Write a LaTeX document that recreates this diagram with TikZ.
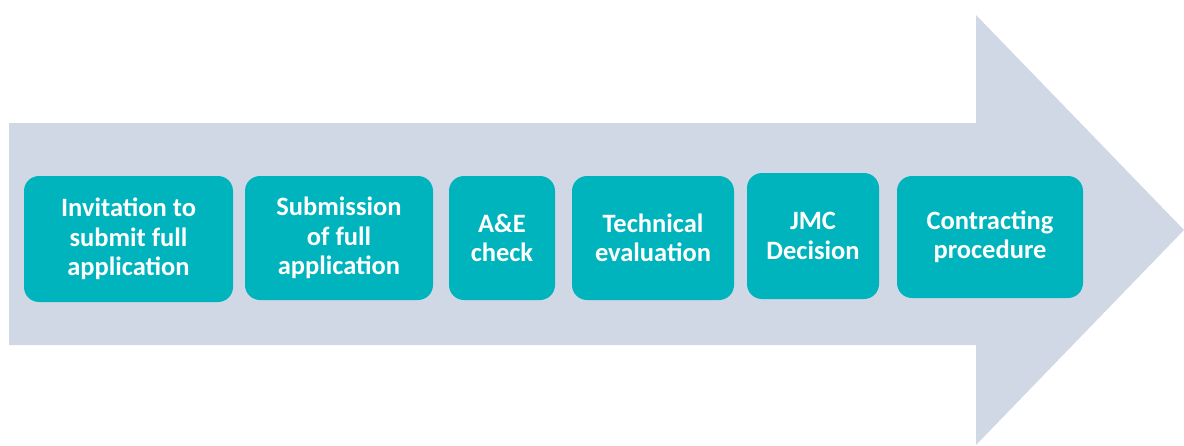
\documentclass[tikz,border=0pt]{standalone}
\usepackage{fontspec}
\setmainfont{Carlito}
\definecolor{arrowbg}{HTML}{D0D7E5}
\definecolor{teal}{HTML}{00B4BE}
\tikzset{
  stepbox/.style={fill=teal, draw=none, rounded corners=15pt, text=white,
    font=\fontsize{26.5}{29.5}\selectfont\bfseries, align=center},
}
\begin{document}
\begin{tikzpicture}[x=1pt,y=-1pt]
\useasboundingbox (0,0) rectangle (1184,445);
\fill[arrowbg] (9,123) -- (976,123) -- (976,15) -- (1184,230) -- (976,445) -- (976,345) -- (9,345) -- cycle;
\node[stepbox, minimum width=209pt, minimum height=126pt] (s1) at (128.5,239) {Invitation to\\submit full\\application};
\node[stepbox, minimum width=188pt, minimum height=124pt] (s2) at (339,238) {Submission\\of full\\application};
\node[stepbox, minimum width=106pt, minimum height=124pt] (s3) at (502,238) {A\&E\\check};
\node[stepbox, minimum width=162pt, minimum height=124pt] (s4) at (653,238) {Technical\\evaluation};
\node[stepbox, minimum width=132pt, minimum height=126pt] (s5) at (813,236) {JMC\\Decision};
\node[stepbox, minimum width=186pt, minimum height=122pt] (s6) at (990,237) {Contracting\\procedure};
\end{tikzpicture}
\end{document}
